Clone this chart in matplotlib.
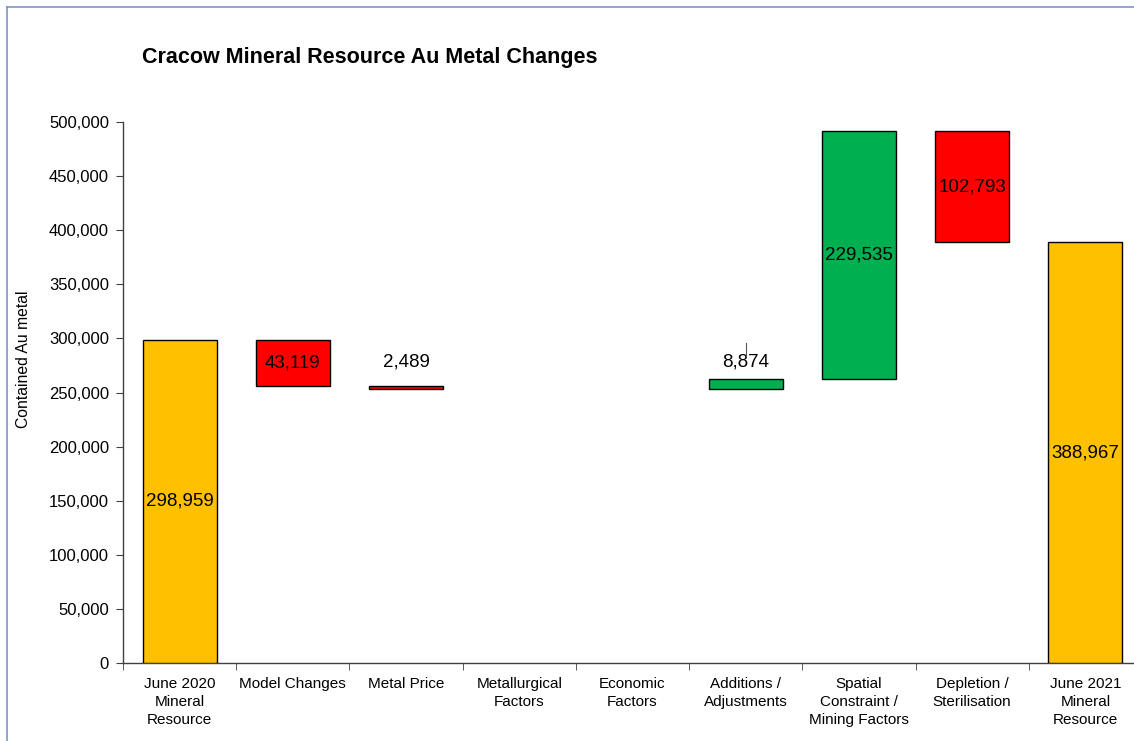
import matplotlib
matplotlib.use("Agg")
import matplotlib.pyplot as plt
from matplotlib.lines import Line2D
import numpy as np

plt.rcParams['font.family'] = ['Liberation Sans', 'DejaVu Sans']

categories = ["June 2020\nMineral\nResource", "Model Changes", "Metal Price",
              "Metallurgical\nFactors", "Economic\nFactors", "Additions /\nAdjustments",
              "Spatial\nConstraint /\nMining Factors", "Depletion /\nSterilisation",
              "June 2021\nMineral\nResource"]
changes = [298959, -43119, -2489, 0, 0, 8874, 229535, -102793, 388967]
kinds = ["total", "delta", "delta", "delta", "delta", "delta", "delta", "delta", "total"]
yticks = list(range(0, 500001, 50000))

GOLD, RED, GREEN = "#FFC000", "#FF0000", "#00B050"

fig = plt.figure(figsize=(11.34, 7.41), dpi=100)
ax = fig.add_axes([123/1134, 78/741, (1142-123)/1134, (663-122)/741])

x = np.arange(len(categories))
running = 0
bottoms, heights, colors = [], [], []
for v, k in zip(changes, kinds):
    if k == "total":
        bottoms.append(0); heights.append(v); colors.append(GOLD)
        running = v
    else:
        if v >= 0:
            bottoms.append(running); heights.append(v); colors.append(GREEN)
        else:
            bottoms.append(running + v); heights.append(-v); colors.append(RED)
        running += v

width = 0.655
for i in range(len(x)):
    if heights[i] == 0:
        continue
    ax.bar(x[i], heights[i], bottom=bottoms[i], width=width, color=colors[i],
           edgecolor="black", linewidth=1.0, zorder=3)

small_label_y = 278000
for i in range(len(x)):
    if heights[i] == 0:
        continue
    lbl = f"{abs(changes[i]):,}"
    if heights[i] < 20000:
        ax.text(x[i], small_label_y, lbl, ha="center", va="center", fontsize=13.5, color="black", zorder=4)
    else:
        ax.text(x[i], bottoms[i] + heights[i] / 2, lbl, ha="center", va="center",
                fontsize=13.5, color="black", zorder=4)

# leader line for Additions label
ax.plot([x[5], x[5]], [284000, 296000], color="#555555", linewidth=0.8, zorder=4)

ax.set_xlim(-0.5, len(x) - 0.5)
ax.set_ylim(0, 500000)
ax.set_yticks(yticks)
ax.set_yticklabels([f"{t:,}" for t in yticks], fontsize=12)
ax.set_xticks(x)
ax.set_xticklabels(categories, fontsize=11, linespacing=1.35)
ax.set_xticks(np.arange(-0.5, len(x), 1.0), minor=True)
ax.tick_params(axis="x", which="major", length=0, pad=10)
ax.tick_params(axis="x", which="minor", length=5, direction="out", color="#404040")
ax.tick_params(axis="y", which="major", length=5, direction="out", color="#404040", pad=5)

for s in ["top", "right"]:
    ax.spines[s].set_visible(False)
for s in ["left", "bottom"]:
    ax.spines[s].set_color("#404040")
    ax.spines[s].set_linewidth(1.0)

ax.set_ylabel("Contained Au metal", fontsize=11.3)
ax.yaxis.set_label_coords(-92/1019, (663-359)/541)

fig.text(142/1134, 1 - 57/741, "Cracow Mineral Resource Au Metal Changes",
         fontsize=15.5, fontweight="bold", ha="left", va="center")

border = "#7F96CC"
fig.add_artist(Line2D([7/1134, 7/1134], [0, 1 - 7/741], color=border, linewidth=1.2, transform=fig.transFigure))
fig.add_artist(Line2D([7/1134, 1], [1 - 7/741, 1 - 7/741], color=border, linewidth=1.2, transform=fig.transFigure))

fig.savefig("out.png", dpi=100, facecolor="white")
